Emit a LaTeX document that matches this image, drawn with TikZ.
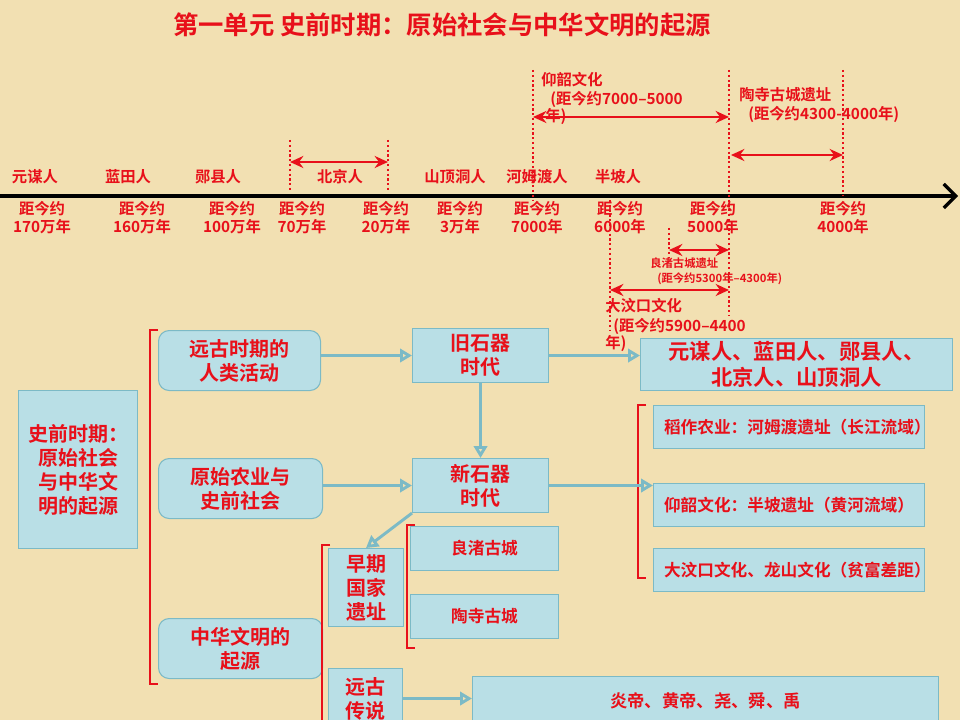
\documentclass[tikz,border=0pt]{standalone}
\usepackage{fontspec}
\setmainfont{Noto Sans CJK SC}[BoldFont={Noto Sans CJK SC Bold}]
\usetikzlibrary{arrows.meta}
\definecolor{bg}{HTML}{F2E0B2}
\definecolor{rd}{HTML}{E8101A}
\definecolor{bx}{HTML}{B9DFE6}
\definecolor{bxl}{HTML}{7CBAC6}
\begin{document}
\begin{tikzpicture}[x=0.75pt,y=-0.75pt,
  t/.style={text=rd,font=\bfseries\fontsize{11.5}{13.5}\selectfont,align=center,inner sep=0},
  ts/.style={text=rd,font=\bfseries\fontsize{8.5}{10}\selectfont,align=center,inner sep=0},
  dl/.style={rd,dotted,line width=1.6pt},
  ra/.style={rd,line width=2pt,{Stealth[length=10pt,width=9pt]}-{Stealth[length=10pt,width=9pt]}},
  bxs/.style={draw=bxl,fill=bx,line width=0.8pt,text=rd,font=\bfseries\fontsize{15}{18}\selectfont,align=center,inner sep=0,anchor=north west},
  bxm/.style={bxs,font=\bfseries\fontsize{12.5}{14.5}\selectfont},
  wh/.style 2 args={minimum width={#1*0.75pt},minimum height={#2*0.75pt}},
  br/.style={rd,line width=1.6pt},
  ha/.style={draw=bxl,line width=2.2pt,-{Triangle[open,length=9pt,width=10pt]}}]
\useasboundingbox (0,0) rectangle (960,720);
\clip (0,0) rectangle (960,720);
\fill[bg] (0,0) rectangle (960,720);
\node[text=rd,font=\bfseries\fontsize{19}{22}\selectfont] (title) at (442,25) {第一单元 史前时期：原始社会与中华文明的起源};
% axis
\coordinate (a0) at (0,196); \coordinate (a1) at (958,196);
\draw[line width=2.4pt,-{Straight Barb[length=9pt]}] (a0) -- (a1);
\foreach \n/\x in {元谋人/35,蓝田人/128,郧县人/218,北京人/340,山顶洞人/455,河姆渡人/537,半坡人/618}
  \node[t] at (\x,177) {\n};
\foreach \n/\x in {170万年/42,160万年/142,100万年/232,70万年/302,20万年/386,3万年/460,7000年/537,6000年/620,5000年/713,4000年/843}
  \node[t] at (\x,218) {距今约\\\n};
% dotted lines
\draw[dl] (290,140) -- (290,190); \draw[dl] (388,140) -- (388,190);
\draw[ra] (290,162) -- (388,162);
\draw[dl] (533,70) -- (533,200);
\draw[dl] (729,70) -- (729,315);
\draw[dl] (843,70) -- (843,196);
\draw[ra] (533,117) -- (729,117);
\draw[ra] (731,155) -- (843,155);
\draw[dl] (669,228) -- (669,258);
\draw[ra] (669,250) -- (729,250);
\draw[dl] (610,200) -- (610,330);
\draw[ra] (610,290) -- (729,290);
\node[t,anchor=west] at (541,80) {仰韶文化};
\node[t,anchor=west] at (550,99) {(距今约7000--5000};
\node[t,anchor=west] at (545,117) {年)};
\node[t,anchor=west] at (739,95) {陶寺古城遗址};
\node[t,anchor=west] at (748,114) {(距今约4300-4000年)};
\node[ts,anchor=west] at (650,263) {良渚古城遗址};
\node[ts,anchor=west] at (657,279) {(距今约5300年--4300年)};
\node[t,anchor=west] at (605,306) {大汶口文化};
\node[t,anchor=west] at (613,326) {(距今约5900--4400};
\node[t,anchor=west] at (605,344) {年)};
% boxes
\node[bxs,wh={119}{158}] (root) at (18,390) {史前时期：\\原始社会\\与中华文\\明的起源};
\node[bxs,rounded corners=8pt,wh={162}{60}] (r1) at (158,330) {远古时期的\\人类活动};
\node[bxs,rounded corners=8pt,wh={164}{60}] (r2) at (158,458) {原始农业与\\史前社会};
\node[bxs,rounded corners=8pt,wh={164}{60}] (r3) at (158,618) {中华文明的\\起源};
\node[bxs,wh={136}{54}] (old) at (412,328) {旧石器\\时代};
\node[bxs,wh={136}{54}] (new) at (412,458) {新石器\\时代};
\node[bxs,font=\bfseries\fontsize{16}{19}\selectfont,wh={312}{52}] (men) at (640,338) {元谋人、蓝田人、郧县人、\\北京人、山顶洞人};
\node[bxm,text width={250*0.75pt},wh={271}{43}] (c1) at (653,405) {稻作农业：河姆渡遗址（长江流域）};
\node[bxm,text width={250*0.75pt},wh={271}{43}] (c2) at (653,483) {仰韶文化：半坡遗址（黄河流域）};
\node[bxm,text width={250*0.75pt},wh={271}{43}] (c3) at (653,548) {大汶口文化、龙山文化（贫富差距）};
\node[bxs,wh={75}{78}] (early) at (328,548) {早期\\国家\\遗址};
\node[bxm,wh={148}{44}] (lz) at (410,526) {良渚古城};
\node[bxm,wh={148}{44}] (ts) at (410,594) {陶寺古城};
\node[bxs,wh={74}{60}] (leg) at (328,668) {远古\\传说};
\node[bxm,font=\bfseries\fontsize{13}{15}\selectfont,wh={466}{48}] (yd) at (472,676) {炎帝、黄帝、尧、舜、禹};
% brackets
\draw[br] (158,330) -- (150,330) -- (150,684) -- (158,684);
\draw[br] (646,405) -- (638,405) -- (638,578) -- (646,578);
\draw[br] (415,525) -- (407,525) -- (407,648) -- (415,648);
\draw[br] (330,545) -- (322,545) -- (322,722);
% arrows
\draw[ha] (r1.east |- old.west) -- (old.west);
\draw[ha] (old.east) -- (old.east -| men.west);
\draw[ha] (old.south) -- (new.north);
\draw[ha] (r2.east |- new.west) -- (new.west);
\draw[ha] (new.east) -- (new.east -| c1.west);
\draw[ha] (new.south west) -- (366,548);
\draw[ha] (leg.east) -- (leg.east -| yd.west);
\end{tikzpicture}
\end{document}
